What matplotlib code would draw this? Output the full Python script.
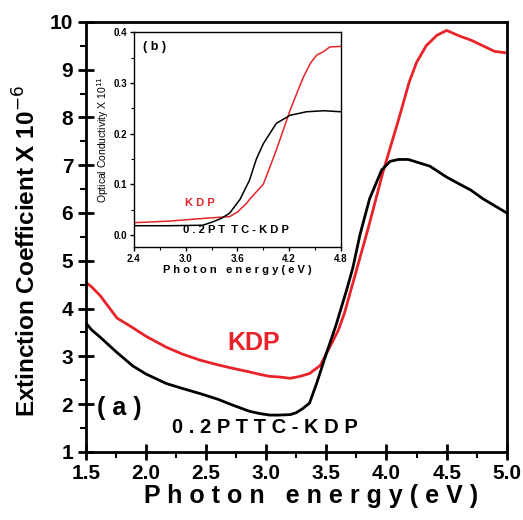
import numpy as np
import matplotlib
matplotlib.use("Agg")
import matplotlib.pyplot as plt
from matplotlib.ticker import MultipleLocator

# main panel (a): extinction coefficient x 1e-6
kdp_e = [1.50, 1.55, 1.62, 1.70, 1.76, 1.89, 2.00, 2.17, 2.30, 2.45, 2.60, 2.72, 2.85,
         2.95, 3.03, 3.10, 3.20, 3.28, 3.36, 3.45, 3.55, 3.60, 3.65, 3.75, 3.85, 3.97,
         4.10, 4.19, 4.25, 4.33, 4.42, 4.50, 4.61, 4.70, 4.80, 4.90, 5.00]
kdp_k = [4.55, 4.45, 4.27, 4.00, 3.80, 3.60, 3.42, 3.19, 3.05, 2.92, 2.82, 2.75, 2.68,
         2.62, 2.58, 2.57, 2.54, 2.58, 2.64, 2.81, 3.30, 3.55, 3.90, 4.80, 5.70, 6.85,
         7.95, 8.75, 9.15, 9.50, 9.72, 9.82, 9.70, 9.62, 9.50, 9.38, 9.35]

pttc_e = [1.50, 1.55, 1.62, 1.75, 1.89, 2.00, 2.17, 2.30, 2.45, 2.60, 2.72, 2.86, 2.95,
          3.03, 3.10, 3.20, 3.25, 3.30, 3.36, 3.42, 3.50, 3.58, 3.67, 3.72, 3.78, 3.86,
          3.96, 4.03, 4.10, 4.18, 4.36, 4.50, 4.61, 4.70, 4.80, 4.90, 5.00]
pttc_k = [3.70, 3.55, 3.40, 3.10, 2.80, 2.63, 2.43, 2.33, 2.22, 2.10, 1.98, 1.85, 1.80,
          1.77, 1.77, 1.78, 1.82, 1.90, 2.02, 2.44, 3.06, 3.65, 4.40, 4.85, 5.55, 6.30,
          6.90, 7.08, 7.12, 7.12, 6.98, 6.75, 6.60, 6.48, 6.30, 6.15, 6.00]

# inset (b): optical conductivity x 1e11
kdp_e_b = [2.40, 2.80, 3.25, 3.51, 3.60, 3.71, 3.74, 3.82, 3.90, 4.05, 4.21, 4.36,
           4.45, 4.52, 4.60, 4.67, 4.80]
kdp_s_b = [0.024, 0.027, 0.033, 0.036, 0.045, 0.063, 0.070, 0.085, 0.100, 0.167, 0.246,
           0.310, 0.340, 0.355, 0.362, 0.371, 0.372]

pttc_e_b = [2.40, 2.80, 3.20, 3.32, 3.42, 3.51, 3.63, 3.74, 3.82, 3.90, 4.05, 4.21,
            4.40, 4.60, 4.80]
pttc_s_b = [0.018, 0.018, 0.019, 0.026, 0.033, 0.043, 0.070, 0.108, 0.150, 0.180, 0.220,
            0.236, 0.243, 0.245, 0.243]

RED = "#e8242a"

plt.rcParams["font.family"] = ["Liberation Sans", "DejaVu Sans"]

fig = plt.figure(figsize=(5.23, 5.20), dpi=100)
ax = fig.add_axes([0.164, 0.131, 0.805, 0.827])

ax.plot(kdp_e, kdp_k, color=RED, lw=2.0)
ax.plot(pttc_e, pttc_k, color="black", lw=2.0)

ax.set_xlim(1.5, 5.0)
ax.set_ylim(1, 10)
ax.xaxis.set_major_locator(MultipleLocator(0.5))
ax.xaxis.set_minor_locator(MultipleLocator(0.25))
ax.yaxis.set_major_locator(MultipleLocator(1))
ax.yaxis.set_minor_locator(MultipleLocator(0.5))
ax.tick_params(which="major", direction="inout", length=11, width=2, labelsize=15)
ax.tick_params(which="minor", direction="out", length=4.5, width=1.5)
for lab in ax.get_xticklabels() + ax.get_yticklabels():
    lab.set_fontweight("bold")
for s in ax.spines.values():
    s.set_linewidth(2)

ax.set_xlabel("P h o t o n   e n e r g y ( e V )", fontsize=18, fontweight="bold")
ax.xaxis.set_label_coords(0.535, -0.075)
ax.set_ylabel("Extinction Coefficient X 10$^{-6}$", fontsize=17.5, fontweight="bold",
              va="center")
ax.yaxis.set_label_coords(-0.14, 0.467)

ax.text(2.68, 3.27, "KDP", color=RED, fontsize=18, fontweight="bold", va="center")
ax.text(1.59, 1.92, "( a )", color="black", fontsize=18, fontweight="bold",
        va="center")
ax.text(2.22, 1.5, "0 . 2 P T T C - K D P", color="black", fontsize=14.5,
        fontweight="bold", va="center")

# inset
axi = fig.add_axes([0.256, 0.525, 0.396, 0.413])
axi.plot(kdp_e_b, kdp_s_b, color=RED, lw=1.1)
axi.plot(pttc_e_b, pttc_s_b, color="black", lw=1.1)
axi.set_xlim(2.4, 4.8)
axi.set_ylim(-0.024, 0.4)
axi.xaxis.set_major_locator(MultipleLocator(0.6))
axi.xaxis.set_minor_locator(MultipleLocator(0.3))
axi.yaxis.set_major_locator(MultipleLocator(0.1))
axi.yaxis.set_minor_locator(MultipleLocator(0.05))
axi.tick_params(which="major", direction="out", length=3, width=1, labelsize=7, pad=2)
axi.tick_params(which="minor", direction="out", length=2, width=0.8)
for lab in axi.get_xticklabels() + axi.get_yticklabels():
    lab.set_fontweight("bold")
for s in axi.spines.values():
    s.set_linewidth(1)
axi.set_xlabel("P h o t o n   e n e r g y ( e V )", fontsize=8, fontweight="bold",
               labelpad=1)
axi.set_ylabel("Optical Conductivity X 10$^{11}$", fontsize=7.5, labelpad=2)
axi.text(2.5, 0.37, "( b )", fontsize=9, fontweight="bold", va="center")
axi.text(2.99, 0.063, "K D P", color=RED, fontsize=8, fontweight="bold", va="center")
axi.text(2.97, 0.01, "0 . 2 P T  T C - K D P", color="black", fontsize=8,
         fontweight="bold", va="center")

fig.savefig("out.png", dpi=100)
